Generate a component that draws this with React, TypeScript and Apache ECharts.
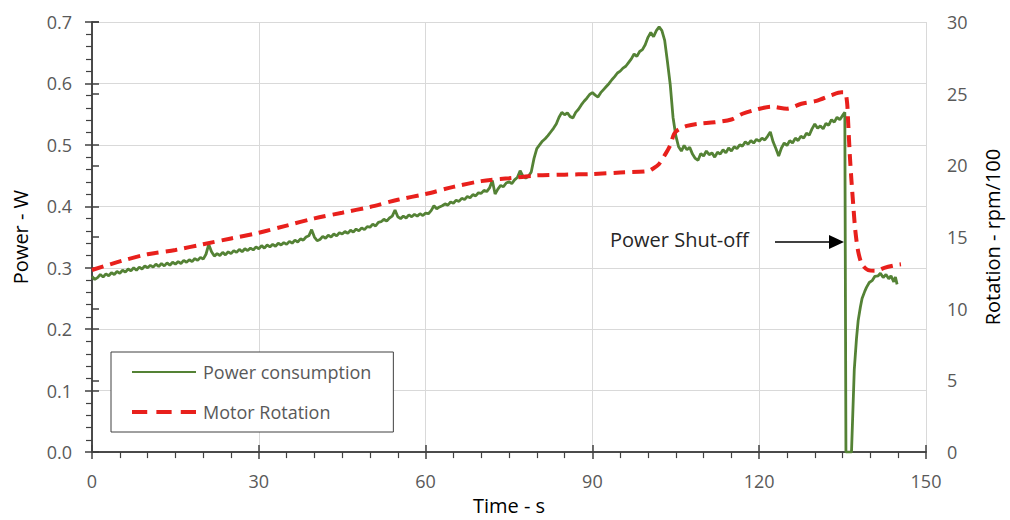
import React, { useEffect, useRef } from "react";
import * as echarts from "echarts";

const timeTicks = [0, 30, 60, 90, 120, 150];

// Power consumption [time s, power W]
const powerSeries: [number, number][] = [
  [0, 0.286], [0.5, 0.281], [1, 0.284], [1.5, 0.289], [2, 0.285], [2.5, 0.29], [3, 0.287], [3.5, 0.292], [4, 0.289], [4.5, 0.294],
  [5, 0.291], [5.5, 0.296], [6, 0.293], [6.5, 0.298], [7, 0.295], [7.5, 0.3], [8, 0.296], [8.5, 0.301], [9, 0.298], [9.5, 0.303],
  [10, 0.3], [10.5, 0.304], [11, 0.301], [11.5, 0.306], [12, 0.302], [12.5, 0.307], [13, 0.303], [13.5, 0.308], [14, 0.304], [14.5, 0.309],
  [15, 0.306], [15.5, 0.31], [16, 0.307], [16.5, 0.312], [17, 0.309], [17.5, 0.313], [18, 0.31], [18.5, 0.315], [19, 0.312], [19.5, 0.317],
  [20, 0.314], [20.5, 0.322], [21, 0.338], [21.5, 0.326], [22, 0.319], [22.5, 0.323], [23, 0.32], [23.5, 0.325], [24, 0.321], [24.5, 0.326],
  [25, 0.323], [25.5, 0.328], [26, 0.325], [26.5, 0.33], [27, 0.326], [27.5, 0.331], [28, 0.328], [28.5, 0.332], [29, 0.329], [29.5, 0.334],
  [30, 0.331], [30.5, 0.336], [31, 0.332], [31.5, 0.337], [32, 0.334], [32.5, 0.338], [33, 0.335], [33.5, 0.34], [34, 0.337], [34.5, 0.341],
  [35, 0.338], [35.5, 0.343], [36, 0.34], [36.5, 0.345], [37, 0.342], [37.5, 0.347], [38, 0.345], [38.5, 0.35], [39, 0.352], [39.5, 0.362],
  [40, 0.35], [40.5, 0.344], [41, 0.346], [41.5, 0.351], [42, 0.348], [42.5, 0.353], [43, 0.35], [43.5, 0.355], [44, 0.352], [44.5, 0.357],
  [45, 0.355], [45.5, 0.359], [46, 0.356], [46.5, 0.361], [47, 0.358], [47.5, 0.363], [48, 0.36], [48.5, 0.365], [49, 0.362], [49.5, 0.367],
  [50, 0.366], [50.5, 0.371], [51, 0.368], [51.5, 0.374], [52, 0.375], [52.5, 0.379], [53, 0.376], [53.5, 0.381], [54, 0.384], [54.5, 0.394],
  [55, 0.383], [55.5, 0.38], [56, 0.384], [56.5, 0.381], [57, 0.386], [57.5, 0.383], [58, 0.387], [58.5, 0.384], [59, 0.388], [59.5, 0.385],
  [60, 0.389], [60.5, 0.388], [61, 0.393], [61.5, 0.401], [62, 0.396], [62.5, 0.399], [63, 0.401], [63.5, 0.404], [64, 0.402], [64.5, 0.407],
  [65, 0.405], [65.5, 0.41], [66, 0.408], [66.5, 0.413], [67, 0.411], [67.5, 0.416], [68, 0.414], [68.5, 0.419], [69, 0.417], [69.5, 0.422],
  [70, 0.421], [70.5, 0.426], [71, 0.424], [71.5, 0.43], [72, 0.442], [72.5, 0.42], [73, 0.428], [73.5, 0.434], [74, 0.432], [74.5, 0.438],
  [75, 0.44], [75.5, 0.437], [76, 0.443], [76.5, 0.447], [77, 0.458], [77.5, 0.449], [78, 0.446], [78.5, 0.449], [79, 0.456], [79.5, 0.478],
  [80, 0.494], [80.5, 0.5], [81, 0.506], [81.5, 0.51], [82, 0.515], [82.5, 0.521], [83, 0.527], [83.5, 0.534], [84, 0.545], [84.5, 0.553],
  [85, 0.549], [85.5, 0.552], [86, 0.546], [86.5, 0.544], [87, 0.553], [87.5, 0.558], [88, 0.565], [88.5, 0.571], [89, 0.576], [89.5, 0.582],
  [90, 0.585], [90.5, 0.581], [91, 0.578], [91.5, 0.585], [92, 0.59], [92.5, 0.595], [93, 0.6], [93.5, 0.606], [94, 0.611], [94.5, 0.617],
  [95, 0.62], [95.5, 0.625], [96, 0.628], [96.5, 0.634], [97, 0.64], [97.5, 0.648], [98, 0.644], [98.5, 0.652], [99, 0.655], [99.5, 0.663],
  [100, 0.675], [100.5, 0.683], [101, 0.676], [101.5, 0.686], [102, 0.692], [102.5, 0.686], [103, 0.67], [103.5, 0.635], [104, 0.598], [104.5, 0.545],
  [105, 0.515], [105.5, 0.497], [106, 0.49], [106.5, 0.499], [107, 0.492], [107.5, 0.496], [108, 0.485], [108.5, 0.478], [109, 0.475], [109.5, 0.486],
  [110, 0.482], [110.5, 0.49], [111, 0.484], [111.5, 0.487], [112, 0.48], [112.5, 0.488], [113, 0.485], [113.5, 0.492], [114, 0.487], [114.5, 0.495],
  [115, 0.49], [115.5, 0.497], [116, 0.494], [116.5, 0.5], [117, 0.498], [117.5, 0.505], [118, 0.501], [118.5, 0.507], [119, 0.503], [119.5, 0.509],
  [120, 0.506], [120.5, 0.511], [121, 0.508], [121.5, 0.514], [122, 0.521], [122.5, 0.505], [123, 0.494], [123.5, 0.482], [124, 0.495], [124.5, 0.503],
  [125, 0.499], [125.5, 0.507], [126, 0.503], [126.5, 0.511], [127, 0.507], [127.5, 0.514], [128, 0.511], [128.5, 0.519], [129, 0.516], [129.5, 0.526],
  [130, 0.534], [130.5, 0.527], [131, 0.531], [131.5, 0.526], [132, 0.535], [132.5, 0.532], [133, 0.541], [133.5, 0.537], [134, 0.545], [134.5, 0.541],
  [135, 0.548], [135.4, 0.553], [135.6, 0.0], [136.6, 0.0], [137.1, 0.134], [137.5, 0.185], [137.8, 0.214], [138.2, 0.236], [138.5, 0.25], [139, 0.262],
  [139.3, 0.268], [139.8, 0.276], [140.3, 0.279], [140.8, 0.286], [141.4, 0.287], [141.8, 0.291], [142.3, 0.284], [142.8, 0.289], [143.3, 0.282], [143.7, 0.287],
  [144.2, 0.277], [144.5, 0.285], [144.8, 0.273],
];

// Motor rotation [time s, rpm/100]
const rotationSeries: [number, number][] = [
  [0, 12.7], [5, 13.3], [10, 13.8], [15, 14.1], [20, 14.5], [25, 14.9], [30, 15.3], [35, 15.8], [40, 16.3], [45, 16.7],
  [50, 17.1], [55, 17.6], [60, 18.0], [65, 18.5], [70, 18.9], [75, 19.1], [80, 19.3], [85, 19.35], [90, 19.4], [95, 19.5],
  [100, 19.6], [101, 19.8], [102, 20.1], [103, 20.7], [104, 21.4], [104.7, 22.2], [105.5, 22.5], [107, 22.75], [109, 22.9], [112, 23.0],
  [115, 23.2], [117, 23.6], [119.6, 23.9], [122.2, 24.1], [125, 23.95], [127.6, 24.3], [130.3, 24.5], [133, 24.9], [134.8, 25.1], [135.4, 25.1],
  [135.8, 24.4], [136, 23.0], [136.3, 20.7], [136.6, 18.9], [137, 16.8], [137.3, 15.4], [137.8, 14.0], [138.5, 13.1], [139.6, 12.7], [141, 12.65],
  [142.5, 12.85], [144.6, 13.05], [145.5, 13.1],
];

const seriesNames = ["Power consumption", "Motor Rotation"];
const annotationText = "Power Shut-off";

const FONT = "'Open Sans', sans-serif";
const AXIS = "#404040";
const LABEL = "#595959";
const GRID = "#d9d9d9";
const GREEN = "#548235";
const RED = "#e8201c";

export default function App() {
  const ref = useRef<HTMLDivElement>(null);
  useEffect(() => {
    if (!ref.current) return;
    const chart = echarts.init(ref.current, null, { renderer: "svg" });
    const tickLabel = { color: LABEL, fontSize: 18, fontFamily: FONT };
    const nameStyle = { color: "#000", fontSize: 20, fontFamily: FONT };
    chart.setOption({
      animation: false,
      backgroundColor: "#fff",
      textStyle: { fontFamily: FONT },
      grid: { left: 92, right: 80, top: 22, bottom: 62, containLabel: false },
      legend: {
        orient: "vertical",
        left: 111,
        top: 352,
        padding: [11, 22, 11, 21],
        itemGap: 22,
        itemWidth: 64,
        itemHeight: 14,
        borderColor: "#404040",
        borderWidth: 1,
        backgroundColor: "#fff",
        textStyle: { color: LABEL, fontSize: 18, fontFamily: FONT, padding: [0, 0, 0, 2] },
        data: [
          { name: seriesNames[0], icon: "path://M0,6 L64,6 L64,8 L0,8 Z", itemStyle: { color: GREEN } },
          {
            name: seriesNames[1],
            icon: "path://M0,5 L15,5 L15,9 L0,9 Z M24,5 L39,5 L39,9 L24,9 Z M48,5 L63,5 L63,9 L48,9 Z",
            itemStyle: { color: RED },
          },
        ],
      },
      xAxis: [
        {
          type: "value",
          min: timeTicks[0],
          max: timeTicks[timeTicks.length - 1],
          interval: 30,
          position: "bottom",
          name: "Time - s",
          nameLocation: "middle",
          nameGap: 37,
          nameTextStyle: nameStyle,
          axisLine: { show: true, lineStyle: { color: AXIS, width: 1.5 } },
          axisTick: { show: true, inside: false, length: 7, lineStyle: { color: AXIS, width: 1.5 } },
          minorTick: { show: true, splitNumber: 6, length: 6, lineStyle: { color: AXIS, width: 1.2 } },
          axisLabel: { ...tickLabel, margin: 20 },
          splitLine: { show: true, lineStyle: { color: GRID, width: 1 } },
        },
        {
          type: "value",
          min: 0,
          max: 150,
          interval: 30,
          position: "bottom",
          axisLine: { show: false },
          axisTick: { show: true, inside: true, length: 7, lineStyle: { color: AXIS, width: 1.5 } },
          axisLabel: { show: false },
          splitLine: { show: false },
        },
        {
          type: "value",
          min: 0,
          max: 150,
          position: "top",
          axisLine: { show: true, lineStyle: { color: AXIS, width: 1.5 } },
          axisTick: { show: false },
          axisLabel: { show: false },
          splitLine: { show: false },
        },
      ],
      yAxis: [
        {
          type: "value",
          min: 0,
          max: 0.7,
          interval: 0.1,
          position: "left",
          name: "Power - W",
          nameLocation: "middle",
          nameGap: 62,
          nameRotate: 90,
          nameTextStyle: nameStyle,
          axisLine: { show: true, lineStyle: { color: AXIS, width: 1.5 } },
          axisTick: { show: true, inside: false, length: 7, lineStyle: { color: AXIS, width: 1.5 } },
          minorTick: { show: true, splitNumber: 5, length: 6, lineStyle: { color: AXIS, width: 1.2 } },
          axisLabel: { ...tickLabel, margin: 20, formatter: (v: number) => v.toFixed(1) },
          splitLine: { show: true, lineStyle: { color: GRID, width: 1 } },
        },
        {
          type: "value",
          min: 0,
          max: 30,
          interval: 5,
          position: "right",
          name: "Rotation - rpm/100",
          nameLocation: "middle",
          nameGap: 56,
          nameRotate: 90,
          nameTextStyle: nameStyle,
          axisLine: { show: true, lineStyle: { color: AXIS, width: 1.5 } },
          axisTick: { show: true, inside: false, length: 7, lineStyle: { color: AXIS, width: 1.5 } },
          axisLabel: { ...tickLabel, margin: 21 },
          splitLine: { show: false },
        },
        {
          type: "value",
          min: 0,
          max: 0.7,
          interval: 0.1,
          position: "left",
          axisLine: { show: false },
          axisTick: { show: true, inside: true, length: 7, lineStyle: { color: AXIS, width: 1.5 } },
          axisLabel: { show: false },
          splitLine: { show: false },
        },
      ],
      series: [
        {
          name: seriesNames[0],
          type: "line",
          xAxisIndex: 0,
          yAxisIndex: 0,
          data: powerSeries,
          symbol: "none",
          color: GREEN,
          lineStyle: { color: GREEN, width: 2.8 },
          z: 3,
        },
        {
          name: seriesNames[1],
          type: "line",
          xAxisIndex: 0,
          yAxisIndex: 1,
          data: rotationSeries,
          symbol: "none",
          smooth: 0.3,
          color: RED,
          lineStyle: { color: RED, width: 4, type: [12, 7] },
          z: 4,
        },
      ],
      graphic: [
        {
          type: "text",
          left: 610,
          top: 229,
          style: { text: annotationText, fill: "#262626", fontSize: 20, fontFamily: FONT },
        },
        {
          type: "line",
          shape: { x1: 775, y1: 242, x2: 832, y2: 242 },
          style: { stroke: "#000", lineWidth: 1.5 },
        },
        {
          type: "polygon",
          shape: { points: [[829, 235], [844, 242], [829, 249]] },
          style: { fill: "#000" },
        },
      ],
    });
    return () => chart.dispose();
  }, []);
  return (
    <div
      ref={ref}
      style={{ position: "fixed", left: 0, top: 0, width: 1010, height: 520, background: "#fff" }}
    />
  );
}
